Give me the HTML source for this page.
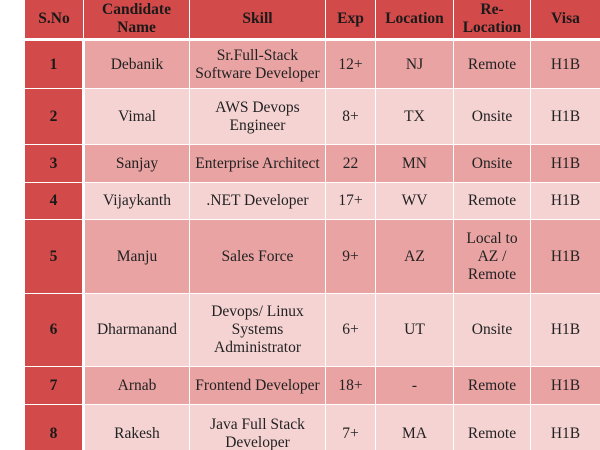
<!DOCTYPE html>
<html><head><style>
html,body{margin:0;width:600px;height:450px;overflow:hidden}
body{background:#fff;position:relative;font-family:"Liberation Serif",serif;font-size:15.5px;color:#222}
.c{position:absolute;display:flex;align-items:center;justify-content:center;text-align:center;line-height:18px;box-sizing:border-box}
.h{background:#d24a49;font-weight:bold;color:#1a1a1a}
.s{background:#d24a49;font-weight:bold;color:#1a1a1a}
.d{background:#e9a3a3}
.l{background:#f6d3d3}
</style></head><body>
<div id="t"></div>
<script>
const X=[25,83,189,325,375,453,530,600];
const hdr=["S.No","Candidate<br>Name","Skill","Exp","Location","Re-<br>Location","Visa"];
const rows=[
[41,88,"d",["1","Debanik","Sr.Full-Stack<br>Software Developer","12+","NJ","Remote","H1B"]],
[89,144,"l",["2","Vimal","AWS Devops<br>Engineer","8+","TX","Onsite","H1B"]],
[145,182,"d",["3","Sanjay","Enterprise Architect","22","MN","Onsite","H1B"]],
[183,219,"l",["4","Vijaykanth",".NET Developer","17+","WV","Remote","H1B"]],
[220,293,"d",["5","Manju","Sales Force","9+","AZ","Local to<br>AZ /<br>Remote","H1B"]],
[294,366,"l",["6","Dharmanand","Devops/ Linux<br>Systems<br>Administrator","6+","UT","Onsite","H1B"]],
[367,404,"d",["7","Arnab","Frontend Developer","18+","-","Remote","H1B"]],
[405,462,"l",["8","Rakesh","Java Full Stack<br>Developer","7+","MA","Remote","H1B"]]];
let h="";
function cell(x0,x1,y0,y1,cls,txt){h+=`<div class="c ${cls}" style="left:${x0}px;top:${y0}px;width:${x1-x0}px;height:${y1-y0}px">${txt}</div>`;}
for(let i=0;i<7;i++)cell(X[i]+(i?1:0),X[i+1],0,38,"h",hdr[i]);
for(const [y0,y1,c,v] of rows){
 for(let i=0;i<7;i++){
  let x0=X[i]+(i?1:0), x1=X[i+1];
  if(i==0)x1=82; if(i==1)x0=85;
  cell(x0,x1,y0,y1,i==0?"s":c,v[i]);
 }
}
document.getElementById("t").innerHTML=h;
</script>
</body></html>
